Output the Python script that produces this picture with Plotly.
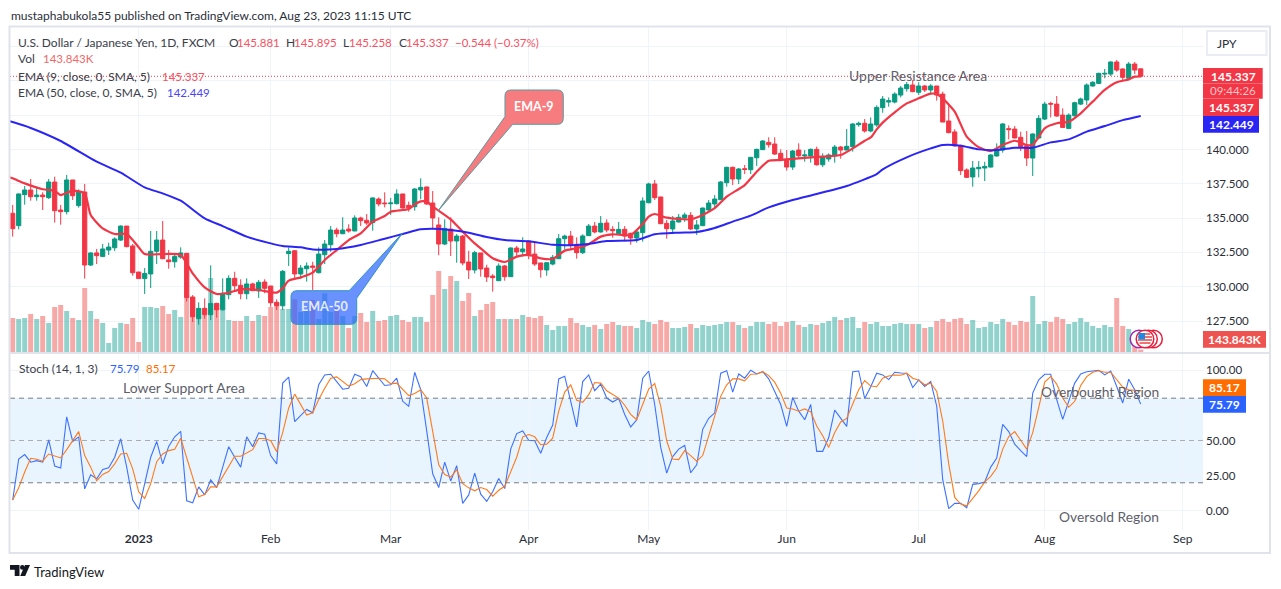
import numpy as np
import plotly.graph_objects as go

FONT = "Lato"
first_date = "2022-12-02"
tick_dates = ["2023-01-02", "2023-02-01", "2023-03-01", "2023-04-03", "2023-05-01", "2023-06-01", "2023-07-03", "2023-08-01", "2023-09-01"]
tick_labels = ["<b>2023</b>", "Feb", "Mar", "Apr", "May", "Jun", "Jul", "Aug", "Sep"]

high = [135.96,136.80,137.34,137.85,137.22,136.88,137.85,138.02,135.96,138.14,137.78,137.10,137.49,132.50,132.75,133.11,133.21,133.60,134.47,134.42,
133.11,131.07,131.36,134.06,134.06,134.79,132.67,132.43,132.87,132.46,129.39,128.86,129.15,131.56,128.83,130.61,130.83,131.09,130.54,130.61,
130.29,130.49,130.54,130.05,129.08,131.22,132.87,132.67,131.58,131.77,131.82,132.87,133.40,134.42,134.30,135.06,134.55,135.20,135.10,135.30,
136.51,136.51,136.88,136.47,137.10,136.76,136.20,137.19,137.90,137.29,136.97,135.06,134.91,135.06,133.84,133.77,132.62,132.62,132.46,131.60,
130.92,131.70,131.58,132.87,132.97,133.60,133.33,133.21,131.75,131.77,132.31,133.84,133.79,134.06,133.60,133.82,134.57,134.72,135.15,134.91,
134.42,134.72,134.42,133.94,134.13,136.51,137.58,137.78,136.56,134.86,135.15,135.30,135.40,135.44,134.86,135.78,136.32,136.68,137.70,138.75,
138.75,138.65,138.87,139.43,140.06,140.69,140.89,140.89,140.01,139.96,139.96,140.45,139.96,140.08,140.21,139.72,139.72,140.33,140.25,141.49,
141.91,142.03,142.22,142.34,143.22,143.90,143.80,144.17,144.63,144.92,145.07,144.90,144.70,144.77,144.63,144.22,143.24,141.47,140.35,138.63,
139.16,139.16,139.11,139.67,140.45,141.93,141.76,141.71,141.30,141.35,141.18,142.51,143.48,143.48,143.90,143.00,142.63,143.48,143.78,144.82,
144.99,145.60,145.87,146.43,146.52,145.92,146.38,146.38,145.895]
low = [133.65,134.18,135.98,136.27,136.27,135.59,136.39,134.67,134.52,135.27,136.32,135.76,130.59,131.51,131.65,132.16,132.31,132.60,133.33,132.87,
130.80,130.59,129.47,129.90,131.65,132.04,131.31,131.39,132.04,128.91,127.42,127.23,127.67,127.57,127.74,128.25,129.08,129.64,129.08,129.08,
129.69,129.18,129.52,128.54,128.30,128.30,131.51,130.61,130.56,130.37,129.76,130.97,131.65,132.55,133.60,133.84,133.94,134.06,134.42,134.50,
134.08,135.86,135.78,135.23,136.00,135.69,135.47,135.54,136.37,135.96,134.18,132.29,133.04,132.24,131.75,131.56,130.56,130.97,130.73,130.34,
129.64,130.41,130.44,130.73,132.19,132.19,132.00,131.51,130.66,130.80,131.56,132.04,132.72,132.72,132.04,132.38,133.72,133.89,133.94,133.96,
133.57,133.84,133.31,133.06,133.21,133.28,136.08,136.32,134.57,133.50,133.84,134.67,134.72,134.13,133.77,134.42,135.54,135.69,136.32,137.29,
137.41,137.48,138.21,138.21,138.80,139.96,140.13,139.60,139.19,138.46,138.51,139.36,139.11,139.04,138.82,138.72,139.11,139.04,139.33,139.96,
139.84,141.66,141.23,141.25,141.66,142.68,143.12,143.36,143.80,144.22,144.17,143.97,144.19,144.02,143.56,142.00,141.18,140.21,138.14,137.92,
137.29,137.97,137.70,138.70,139.48,139.77,140.74,140.81,139.89,138.80,138.07,140.74,142.15,142.34,142.39,141.57,141.49,142.39,143.24,143.24,
144.58,144.77,145.19,145.36,145.67,145.02,145.11,145.50,145.258]
body_top = [135.35,136.76,137.05,137.05,136.68,136.68,137.63,137.63,135.59,137.78,137.78,136.90,136.90,132.46,132.46,132.75,132.89,133.48,134.42,134.42,
132.97,131.07,130.97,132.58,133.40,133.40,131.95,132.21,132.46,132.43,129.25,128.42,128.42,128.78,128.78,129.52,130.61,130.61,130.10,130.20,
130.20,130.32,130.34,130.05,128.86,131.12,132.58,132.62,131.36,131.51,131.51,132.38,133.11,134.13,134.13,134.13,134.20,135.01,135.01,134.84,
136.47,136.39,136.10,136.10,136.76,136.76,135.93,137.12,137.24,137.27,136.10,134.50,134.25,134.20,133.69,133.69,131.80,132.48,132.46,131.36,
130.78,131.51,131.51,132.82,132.82,132.75,133.33,132.38,131.73,131.75,132.14,133.50,133.69,133.69,133.09,133.70,134.42,134.42,134.62,134.64,
134.18,134.18,134.18,133.89,133.99,136.25,137.49,137.49,136.54,134.62,134.79,135.06,135.23,135.20,134.50,135.73,136.10,136.39,137.63,138.70,
138.70,138.58,138.60,139.43,140.01,140.62,140.52,140.40,139.72,139.28,139.89,139.96,139.60,140.01,140.01,139.43,139.60,140.18,140.18,140.23,
141.86,141.91,141.91,141.86,143.07,143.68,143.56,144.04,144.48,144.73,144.70,144.63,144.63,144.63,144.63,144.04,142.08,141.28,140.30,138.51,
138.65,138.70,138.77,139.60,140.01,141.86,141.52,141.49,140.89,140.28,141.13,142.27,143.31,143.36,143.31,142.51,142.51,143.41,143.68,144.70,
144.90,145.55,145.55,146.38,146.38,145.87,146.23,146.23,145.881]
body_bottom = [134.23,134.45,136.71,136.56,136.56,136.56,136.49,135.54,135.47,135.47,136.63,135.91,131.58,131.58,132.26,132.21,132.67,132.84,133.40,132.92,
131.02,130.59,130.59,130.93,132.58,132.04,131.82,131.82,132.16,129.20,127.81,127.67,127.96,127.96,128.32,128.32,129.42,130.07,129.49,129.49,
129.71,129.69,129.88,128.83,128.61,128.61,132.41,130.93,130.93,131.31,131.41,131.02,132.33,133.06,133.86,133.86,134.06,134.06,134.81,134.64,
134.67,136.03,136.05,136.05,136.05,135.74,135.76,135.83,137.05,136.03,135.01,133.11,133.11,133.33,133.33,131.73,131.22,131.22,131.29,130.71,
130.66,130.44,130.73,130.73,132.53,132.55,132.26,131.65,131.24,131.22,131.65,132.04,133.50,133.01,132.48,132.48,133.72,133.99,133.99,134.13,
134.08,133.86,133.69,133.55,133.55,133.94,136.12,136.49,134.59,134.23,134.21,134.72,135.01,134.21,134.21,134.45,135.59,136.03,136.34,137.58,
137.85,137.85,138.55,138.53,139.40,139.99,140.35,139.67,139.21,138.72,138.72,139.55,139.53,139.53,138.89,138.89,139.31,139.55,139.96,139.96,
140.21,141.81,141.35,141.35,141.79,143.05,143.46,143.46,143.97,144.43,144.22,144.17,144.34,144.34,143.97,142.00,141.23,140.26,138.46,137.97,
138.00,138.60,138.65,138.72,139.53,139.96,141.45,140.84,140.21,139.38,139.38,140.84,142.22,143.31,142.44,141.61,141.54,142.46,143.31,143.61,
144.63,144.82,145.50,145.50,145.79,145.26,145.19,145.79,145.337]
falling_bars = [0,3,5,7,8,10,12,14,19,20,21,25,26,29,30,32,34,37,38,40,42,43,44,47,50,54,56,58,59,61,62,65,66,69,70,71,73,75,76,78,79,80,82,84,86,87,88,93,94,
97,99,100,102,103,107,108,109,113,120,122,126,127,128,129,131,134,138,142,150,152,154,155,156,157,158,159,166,167,168,169,173,174,175,184,185,187,188]
volume_k = [2040,1980,2040,2280,1980,2160,1740,2700,2820,2460,2040,1920,3840,2460,1980,1740,540,1440,1740,1680,
2040,600,2700,2700,2640,2760,2280,2520,2100,3240,3280,2120,2220,4440,2920,2520,1920,1860,1860,2160,
1860,2220,2160,2700,3000,2580,2580,3160,2400,2520,3120,1980,3520,2400,2640,2160,1440,2160,2340,1800,
2460,1860,1920,2160,2220,1920,1800,2100,2100,1800,3420,4860,3780,4560,4260,3060,3540,2160,2520,2880,
3000,1980,1980,1980,1980,2220,2100,2040,2160,1620,1320,1560,1560,2040,1740,
1620,1500,1620,1380,1680,1800,1620,1560,1560,1440,1920,1800,1680,1920,1800,1440,1440,1500,1680,1440,
1620,1560,1620,1680,1800,1800,1620,1440,1560,1800,1800,1680,1800,1560,1800,1860,1620,1500,1680,1620,
1740,1860,2100,1920,2040,2100,1440,1800,1680,1800,1560,1560,1680,1740,1680,1680,1680,1440,1500,1860,
1980,1800,1980,2040,1680,1920,1440,1500,1800,1680,1980,1800,1620,1860,1800,3360,1680,1860,1800,2100,
1980,1680,1800,2040,1800,1560,1440,1620,1500,3240,1560,1380,840,143.843]

ema9_at = [-1,0,2,5,7,8,10,12,13,15,17,19,21,22,25,28,30,32,34,36,38,41,44,45,46,48,50,52,54,56,58,60,62,63,65,66,67,68,69,70,71,73,75,77,78,80,82,84,86,88,90,92,94,
96,98,100,103,105,106,107,109,113,115,117,119,122,124,126,128,131,135,138,140,142,143,144,145,147,149,151,153,154,155,157,159,161,163,165,167,169,170,172,174,176,178,180,182,184,186,187,188]
ema9 = [138.05,137.90,137.53,137.10,137.00,136.68,137.00,136.80,135.23,134.25,133.84,133.84,132.87,132.38,132.38,132.31,130.97,129.95,129.47,129.56,129.81,129.76,129.57,129.88,130.44,130.68,131.02,131.95,132.67,133.40,133.89,134.74,135.15,135.47,135.59,135.66,136.00,136.22,136.20,135.83,135.54,134.91,134.01,133.16,132.80,132.07,131.80,132.19,132.31,132.07,132.02,132.63,132.80,
133.10,133.65,133.82,133.77,134.57,135.10,135.30,135.03,134.91,135.23,135.72,136.56,137.41,138.38,139.18,139.23,139.36,139.48,139.60,140.08,140.64,140.88,141.47,141.96,142.71,143.36,143.73,144.07,144.04,143.73,142.76,140.94,140.16,139.89,140.33,140.64,140.33,140.33,141.54,141.91,142.03,142.64,143.49,144.34,144.90,145.11,145.31,145.337]
ema50_at = [-1,0,3,8,14,18,22,25,28,32,35,39,43,45,48,50,54,58,62,65,68,70,73,76,79,82,86,90,94,96,99,104,107,111,114,117,120,123,126,130,134,139,144,145,149,153,155,158,161,164,167,170,173,176,179,182,185,188]
ema50 = [142.12,142.00,141.57,140.62,139.11,138.31,137.24,136.80,136.27,134.98,134.42,133.65,133.16,132.97,132.87,132.72,132.75,133.04,133.50,133.84,134.18,134.23,134.13,133.94,133.62,133.40,133.31,133.06,133.04,133.11,133.33,133.40,133.82,133.94,133.99,134.28,134.74,135.18,135.78,136.32,136.76,137.34,138.21,138.55,139.43,140.08,140.33,140.28,140.01,139.96,140.13,140.13,140.52,140.74,141.30,141.71,142.14,142.449]

stoch_k = [7.7,36.9,40,34.6,35.7,34.6,50.5,31.8,30.4,66.8,49.3,52.6,15.7,25.7,22.9,29.4,30.6,38.1,51.2,31.1,7.7,1.2,19.4,38.1,49.3,33.4,45.8,52.6,56.5,7.2,5.8,17.1,11.4,22,16.6,31.1,45.6,38.1,31.1,52.6,45.6,55.4,54.4,39.3,33.4,90.7,94.9,63.3,67.3,72,69.6,89.5,
96.5,97,91.8,86.4,87.1,97,95.3,88.3,99.5,94.2,89,89.5,94.2,77.8,74.3,98.4,86,56.8,26.4,16.6,34.6,21.3,32.2,5.4,11.4,26.9,11.9,6.8,13.6,23.1,15.9,43.9,54.9,56.8,50.2,49.8,40.9,52.1,61,93.7,95.6,77.8,59.6,91.8,96.5,85.3,90,80.1,77.3,79.7,68.5,59.6,64.7,
94.2,99.3,75.5,45.1,26.9,38.6,43.9,46.5,27.1,32.7,57.9,65.7,69.6,97.7,99.5,84.3,97.2,94.2,99.8,97.2,98.8,93.7,84.8,75.5,60,80.6,70.8,64.7,75.5,42.3,42.3,52.1,71.5,65.7,60,98.8,99.3,79.7,88.1,97.7,96.5,93.2,98.4,97.9,97.7,87.6,93,88.3,91.8,74.3,22.2,1.6,5.4,
5.4,2.3,18.9,19.4,20.6,31.1,37.6,61.4,56.3,47.4,42.8,38.6,83.6,93,97,97,79,65,77.8,90.7,97.2,98.8,99.3,99.8,96.5,99.3,88.3,76.6,93.5,86,75.79]
stoch_d = [7.7,16.4,27.6,37.4,36.7,35.3,40.4,39,37.6,43.5,49.8,56.3,39.3,31.1,21.5,25.9,28,33.4,40.4,40.9,29.9,13.6,8.9,19.4,35,40.4,42.8,43.7,51.6,38.1,24.1,10,11.7,17.1,17.1,24.1,31.5,38.8,38.8,41.1,43.5,51.4,51.4,49.8,42.1,55.6,73.1,82.9,75.5,68,69.6,79,
87.1,94.2,95.1,91.8,88.6,90.2,93.2,93.7,94.2,94.2,93.7,90.2,90.7,86.4,81.9,83.4,86,80.1,56.8,32.7,25.9,24.1,29.2,19.4,16.4,14.3,16.6,15.2,10.5,14.7,17.5,27.6,38.1,52.6,54.2,52.6,47,47.4,51.6,70.8,84.3,89.5,78.5,77.1,82.5,91.1,90.7,85.3,82.5,80.1,75,68.5,64.7,
75.5,86.4,90.4,74.3,49.8,36.9,36.4,42.8,39.3,35.3,39.3,53.3,66.1,81.3,89.5,93.7,93.7,92.3,97,97.2,98.8,96,91.4,83.6,73.1,72.4,70.8,72.4,70.3,60.3,53.3,45.1,55.6,63.1,65.7,75.5,86,92.5,88.6,88.1,94.2,95.8,96.5,96.3,97.7,94.2,92.8,89.5,90.7,84.8,63.8,33.4,9.6,
4.9,3.7,8.9,14.3,20.6,24.5,30.4,43.9,52.8,56.3,50.2,43.9,55.6,73.1,91.4,95.3,90,80.1,73.6,77.8,89,95.3,98.4,99.5,98.4,98.4,93,87.9,86,85.5,85.17]

price_ticks = [127.5, 130, 132.5, 135, 137.5, 140, 142.5, 145, 147.5]
price_labels = ["127.500", "130.000", "132.500", "135.000", "137.500", "140.000", "", "", ""]
stoch_ticks = [0, 25, 50, 75, 100]
stoch_labels = ["0.00", "25.00", "50.00", "", "100.00"]

last_close, last_ema9, last_ema50 = 145.337, 145.337, 142.449

GREEN, RED, BLUE, INK, GRID = "#089981", "#F23645", "#2A25F5", "#3A3E4A", "#F0F3FA"
W, H = 1281, 589
fx = lambda x: x / W
fy = lambda y: 1 - y / H

n = len(high)
idx = np.arange(n)
falling = set(falling_bars)
is_red = np.array([i in falling for i in idx])
opens = np.where(is_red, body_top, body_bottom)
closes = np.where(is_red, body_bottom, body_top)
vol_colors = np.where(is_red, "rgba(239,83,80,0.5)", "rgba(38,166,154,0.5)")
tick_pos = [int(np.busday_count(first_date, d)) for d in tick_dates]

fig = go.Figure()
fig.add_trace(go.Bar(x=idx, y=volume_k, marker=dict(color=list(vol_colors), line_width=0), xaxis="x", yaxis="y", hoverinfo="skip"))
fig.add_trace(go.Candlestick(x=idx, open=opens, high=high, low=low, close=closes, xaxis="x", yaxis="y3", whiskerwidth=0,
    increasing=dict(line=dict(color=GREEN, width=1), fillcolor=GREEN),
    decreasing=dict(line=dict(color=RED, width=1), fillcolor=RED), hoverinfo="skip"))
fig.add_trace(go.Scatter(x=ema9_at, y=ema9, mode="lines", line=dict(color=RED, width=2.2, shape="spline", smoothing=0.6), xaxis="x", yaxis="y3", hoverinfo="skip"))
fig.add_trace(go.Scatter(x=ema50_at, y=ema50, mode="lines", line=dict(color=BLUE, width=2, shape="spline", smoothing=0.6), xaxis="x", yaxis="y3", hoverinfo="skip"))
fig.add_trace(go.Scatter(x=idx, y=stoch_k, mode="lines", line=dict(color="#3D72FF", width=1.1), xaxis="x", yaxis="y2", hoverinfo="skip"))
fig.add_trace(go.Scatter(x=idx, y=stoch_d, mode="lines", line=dict(color="#FF7A1A", width=1.1), xaxis="x", yaxis="y2", hoverinfo="skip"))

shapes, annots = [], []

def rect(x0, y0, x1, y1, fill, line=None, lw=0, layer="above"):
    shapes.append(dict(type="rect", xref="paper", yref="paper", x0=fx(x0), x1=fx(x1), y0=fy(y0), y1=fy(y1),
                       fillcolor=fill, line=dict(color=line or fill, width=lw), layer=layer))

def text(x, y, s, color=INK, size=12, anchor="left", bold=False):
    annots.append(dict(xref="paper", yref="paper", x=fx(x), y=fy(y), text=f"<b>{s}</b>" if bold else s, showarrow=False,
                       xanchor=anchor, yanchor="middle", borderpad=0, font=dict(family=FONT, size=size, color=color)))

def poly(points, fill, line=None, lw=1, layer="above"):
    d = "M " + " L ".join(f"{fx(x):.5f},{fy(y):.5f}" for x, y in points) + " Z"
    shapes.append(dict(type="path", xref="paper", yref="paper", path=d, fillcolor=fill, line=dict(color=line or fill, width=lw), layer=layer))

def circle(cx, cy, r, fill, line, lw=1.5):
    shapes.append(dict(type="circle", xref="paper", yref="paper", x0=fx(cx - r), x1=fx(cx + r), y0=fy(cy + r), y1=fy(cy - r),
                       fillcolor=fill, line=dict(color=line, width=lw), layer="above"))

# stochastic band and levels
shapes.append(dict(type="rect", xref="paper", yref="y2", x0=fx(10), x1=fx(1203), y0=20, y1=80, fillcolor="rgba(33,150,243,0.1)", line_width=0, layer="below"))
for lvl, col in [(80, "#787B86"), (20, "#787B86"), (50, "rgba(120,123,134,0.6)")]:
    shapes.append(dict(type="line", xref="paper", yref="y2", x0=fx(10), x1=fx(1203), y0=lvl, y1=lvl, line=dict(color=col, width=1, dash="5px,4px"), layer="above"))

# last price line
shapes.append(dict(type="line", xref="paper", yref="y3", x0=fx(10), x1=fx(1203), y0=last_close, y1=last_close, line=dict(color=RED, width=1, dash="1px,2px"), layer="above"))

# frame
rect(9.5, 26.5, 1270, 553, "rgba(0,0,0,0)", "#E0E3EB", 2)
shapes.append(dict(type="line", xref="paper", yref="paper", x0=fx(10), x1=fx(1270), y0=fy(353), y1=fy(353), line=dict(color="#E0E3EB", width=2), layer="above"))

def bubble(x0, y0, x1, y1, tip, side, fill, border, r=6):
    corner = lambda cx, cy, ex, ey: f"Q {fx(cx):.5f},{fy(cy):.5f} {fx(ex):.5f},{fy(ey):.5f} "
    L = lambda x, y: f"L {fx(x):.5f},{fy(y):.5f} "
    d = f"M {fx(x0+r):.5f},{fy(y0):.5f} "
    if side == "top-right":
        d += L(x1 - 7.5, y0) + L(*tip) + L(x1, y0 + 7.5)
    else:
        d += L(x1 - r, y0) + corner(x1, y0, x1, y0 + r)
    d += L(x1, y1 - r) + corner(x1, y1, x1 - r, y1)
    if side == "bottom-left":
        d += L(x0 + 7.7, y1) + L(*tip) + L(x0, y1 - 7.7)
    else:
        d += L(x0 + r, y1) + corner(x0, y1, x0, y1 - r)
    d += L(x0, y0 + r) + corner(x0, y0, x0 + r, y0) + "Z"
    shapes.append(dict(type="path", xref="paper", yref="paper", path=d, fillcolor=fill, line=dict(color=border, width=1), layer="above"))

bubble(505, 90, 563.3, 124.3, (438, 211), "bottom-left", "#F77C80", "#5B9AA0")
text(534, 106.5, "EMA-9", "#FFFFFF", 12.5, "center", True)
bubble(291, 290.7, 356.7, 324.3, (402.3, 233.3), "top-right", "rgba(41,98,255,0.7)", "#2E93C0")
text(324, 306.5, "EMA-50", "rgba(255,255,255,0.85)", 12.5, "center", True)

# header and legend
text(10, 15, "mustaphabukola55 published on TradingView.com, Aug 23, 2023 11:15 UTC", "#2A2E39")
text(17, 42, "U.S. Dollar / Japanese Yen, 1D, FXCM")
for xl, lab, xv, val in [(227.5, "O", 236.4, "145.881"), (284.6, "H", 293, "145.895"), (341.8, "L", 348, "145.258"), (397.5, "C", 405, "145.337")]:
    text(xl, 42, lab)
    text(xv, 42, val, "#F7525F", 11.5)
text(453.6, 42, "−0.544 (−0.37%)", "#F7525F", 11.5)
text(17, 59, "Vol")
text(41.8, 59, "143.843K", "#EF6A68", 11.5)
text(17, 76, "EMA (9, close, 0, SMA, 5)")
text(160.7, 76, "145.337", "#F7525F", 11.5)
text(17, 92, "EMA (50, close, 0, SMA, 5)")
text(166.4, 92, "142.449", "#4A45F7", 11.5)
text(18, 368, "Stoch (14, 1, 3)")
text(109, 368, "75.79", "#2962FF", 11.5)
text(145, 368, "85.17", "#FF6D00", 11.5)

# drawing labels
NOTE = "#5D606B"
text(848, 75.5, "Upper Resistance Area", NOTE, 14)
text(122, 387.5, "Lower Support Area", NOTE, 14)
text(1040, 391.5, "Overbought Region", NOTE, 13.8)
text(1058, 516.5, "Oversold Region", NOTE, 13.8)

# price tags
rect(1203, 68, 1262.7, 83.5, RED)
rect(1203, 83.5, 1262.7, 98.7, RED)
text(1233, 76, "145.337", "#FFFFFF", 12, "center", True)
text(1233, 90.5, "09:44:26", "#FBC3C7", 11.5, "center")
rect(1203, 99, 1259, 116, RED)
text(1231, 107.5, "145.337", "#FFFFFF", 12, "center", True)
rect(1203, 116, 1259, 132.7, BLUE)
text(1231, 124.5, "142.449", "#FFFFFF", 12, "center", True)
rect(1203, 331, 1266, 347.7, "#EF5350")
text(1234.5, 339.5, "143.843K", "#FFFFFF", 12, "center", True)
rect(1203, 379.3, 1246, 396, "#FF6D00")
text(1224.5, 387.5, "85.17", "#FFFFFF", 12, "center", True)
rect(1203, 396, 1246, 412.7, "#2962FF")
text(1224.5, 404.5, "75.79", "#FFFFFF", 12, "center", True)

# JPY button
shapes.append(dict(type="rect", xref="paper", yref="paper", x0=fx(1207), x1=fx(1266.5), y0=fy(55), y1=fy(31), fillcolor="#FFFFFF", line=dict(color="#E9ECF3", width=2), layer="above"))
text(1216, 43, "JPY", "#2A2E39")

# event flags
circle(1153.5, 339, 8.8, "#FFFFFF", "#E91E3C")
circle(1148.5, 339, 8.8, "#FFFFFF", "#E91E3C")
circle(1139, 339, 8.8, "#FFFFFF", "#9C27B0")
circle(1145, 339, 8.8, "#FFFFFF", "#E91E3C")
for yy, half in [(334, 5.5), (337, 7), (340, 7), (343, 5.5)]:
    rect(1145 - half, yy - 0.7, 1145 + half, yy + 0.7, "#E53935")
rect(1138.5, 333, 1145, 339.5, "#1E88E5")

# TradingView mark
poly([(10, 565), (19.5, 565), (19.5, 576), (14.7, 576), (14.7, 569.8), (10, 569.8)], "#131722", lw=0)
circle(22.3, 567.4, 2.3, "#131722", "#131722", 0)
poly([(25, 565), (30, 565), (25.2, 576), (20.2, 576)], "#131722", lw=0)
text(33, 571.5, "TradingView", "#131722", 13)

common_axis = dict(showline=False, zeroline=False, fixedrange=True)
fig.update_layout(
    width=W, height=H, margin=dict(l=0, r=0, t=0, b=0), paper_bgcolor="#FFFFFF", plot_bgcolor="#FFFFFF", showlegend=False,
    bargap=0.17, boxgap=0.3, boxgroupgap=0, font=dict(family=FONT, size=12, color="#131722"), shapes=shapes, annotations=annots,
    xaxis=dict(domain=[fx(10), fx(1203)], range=[-0.45, 198.38], anchor="y2", tickmode="array", tickvals=tick_pos, ticktext=tick_labels,
               showgrid=True, gridcolor=GRID, gridwidth=1, ticks="", rangeslider=dict(visible=False), tickfont=dict(family=FONT, size=12, color="#2A2E39"), **common_axis),
    yaxis=dict(domain=[fy(352), fy(27)], range=[0, 19500], visible=False, showgrid=False, anchor="x", **common_axis),
    yaxis3=dict(domain=[fy(352), fy(27)], range=[125.24, 148.93], overlaying="y", side="right", anchor="x", tickmode="array", tickvals=price_ticks, ticktext=price_labels,
                showgrid=True, gridcolor=GRID, gridwidth=1, ticks="", ticklabelstandoff=2, tickfont=dict(family=FONT, size=11.5, color="#2A2E39"), **common_axis),
    yaxis2=dict(domain=[fy(530), fy(354)], range=[-13.5, 111.35], side="right", anchor="x", tickmode="array", tickvals=stoch_ticks, ticktext=stoch_labels,
                showgrid=True, gridcolor=GRID, gridwidth=1, ticks="", ticklabelstandoff=2, tickfont=dict(family=FONT, size=11.5, color="#2A2E39"), **common_axis),
)

fig.write_html("out.html", config=dict(displayModeBar=False, staticPlot=True),
               post_script="document.body.style.margin='0';document.documentElement.style.overflow='hidden';")
